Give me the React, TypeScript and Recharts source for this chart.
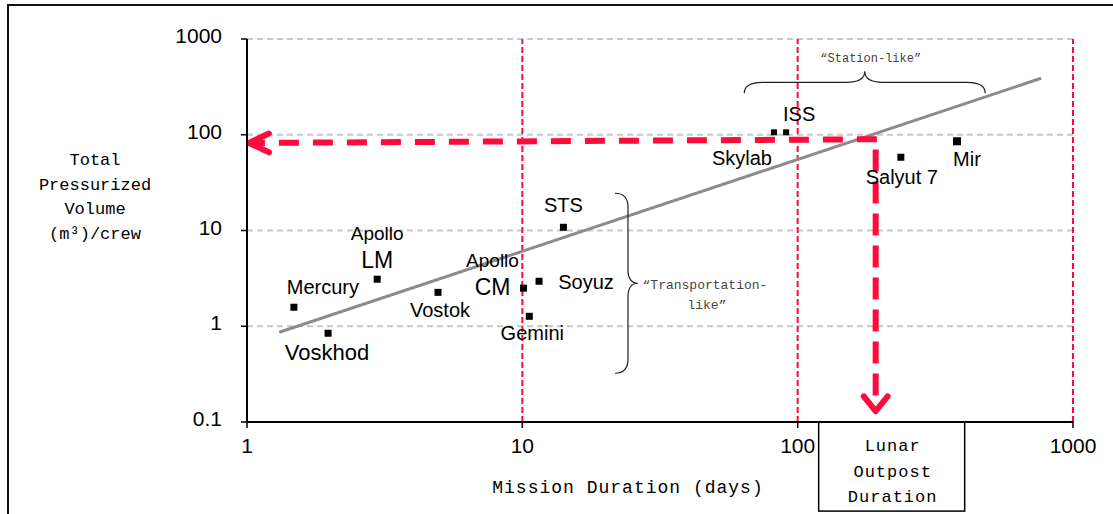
import React from 'react';
import { ScatterChart, Scatter, XAxis, YAxis, CartesianGrid, ReferenceLine } from 'recharts';

// mission data (days vs m3 per crew)
const missions = ['Mercury', 'Voskhod', 'Apollo LM', 'Vostok', 'Apollo CM', 'Gemini', 'Soyuz', 'STS', 'Skylab', 'ISS', 'Salyut 7', 'Mir'];
const durationDays = [1.48, 1.97, 2.97, 4.94, 10.1, 10.6, 11.5, 14.1, 82, 90.8, 237, 379];
const volumePerCrew = [1.58, 0.845, 3.1, 2.26, 2.5, 1.27, 2.95, 10.8, 106, 106, 58.2, 85.5];

const xTicks = [1, 10, 100, 1000];
const yTicks = [0.1, 1, 10, 100, 1000];
const decadeLines = [10, 100, 1000];

// fitted trend
const trendDays = [1.31, 766];
const trendVolume = [0.865, 389];

// lunar outpost read-off arrows
const outpostDays = 192;
const horizArrowDays = [194, 1.017];
const horizArrowVolume = [89.8, 82];
const vertArrowVolume = [70, 0.13];

// brace annotations
const stationBraceDays = [64, 480];
const stationBraceVolume = 271;
const transportBraceDays = 21.7;
const transportBraceVolume = [24.5, 0.323];

const yTitleLines = ['Total', 'Pressurized', 'Volume', '(m³)/crew'];
const outpostLines = ['Lunar', 'Outpost', 'Duration'];

const RED = '#ff0a3c';
const SANS = '"Liberation Sans", Arial, sans-serif';
const MONO = '"Liberation Mono", "Courier New", monospace';

const pointData = missions.map((name, i) => ({ name, x: durationDays[i], y: volumePerCrew[i] }));

type Row = { dx: number; dy: number; size: number };
const labelLayout: Record<string, { rows: Row[]; marker: number }> = {
  Mercury: { rows: [{ dx: 29, dy: -20, size: 20 }], marker: 7 },
  Voskhod: { rows: [{ dx: -1, dy: 19, size: 22 }], marker: 7 },
  'Apollo LM': { rows: [{ dx: 0, dy: -46, size: 19 }, { dx: 0, dy: -19, size: 23 }], marker: 7 },
  Vostok: { rows: [{ dx: 2, dy: 18, size: 20 }], marker: 7 },
  'Apollo CM': { rows: [{ dx: -31, dy: -28, size: 19 }, { dx: -31, dy: -1, size: 23 }], marker: 7 },
  Gemini: { rows: [{ dx: 3, dy: 17, size: 20 }], marker: 7 },
  Soyuz: { rows: [{ dx: 47, dy: 1, size: 20 }], marker: 7 },
  STS: { rows: [{ dx: 0, dy: -22, size: 20 }], marker: 7 },
  Skylab: { rows: [{ dx: -32, dy: 26, size: 20 }], marker: 6 },
  ISS: { rows: [{ dx: 13, dy: -18, size: 20 }], marker: 6 },
  'Salyut 7': { rows: [{ dx: 1, dy: 20, size: 20 }], marker: 7 },
  Mir: { rows: [{ dx: 10, dy: 18, size: 20 }], marker: 8 },
};

const MissionMarker = (props: any) => {
  const { cx, cy, payload } = props;
  const layout = labelLayout[payload.name];
  const texts = layout.rows.length > 1 ? payload.name.split(' ') : [payload.name];
  const s = layout.marker;
  return (
    <g>
      <rect x={cx - s / 2} y={cy - s / 2} width={s} height={s} fill="#000" />
      {layout.rows.map((r, i) => (
        <text key={i} x={cx + r.dx} y={cy + r.dy} dy="0.35em" textAnchor="middle"
          fontFamily={SANS} fontSize={r.size} fill="#000">
          {texts[i]}
        </text>
      ))}
    </g>
  );
};

const RedArrow = ({ x1, y1, x2, y2, arm, spread, dash }: any) => {
  const ang = Math.atan2(y2 - y1, x2 - x1);
  const p1 = [x2 - arm * Math.cos(ang - spread), y2 - arm * Math.sin(ang - spread)];
  const p2 = [x2 - arm * Math.cos(ang + spread), y2 - arm * Math.sin(ang + spread)];
  return (
    <g>
      <line x1={x1} y1={y1} x2={x2 - 6 * Math.cos(ang)} y2={y2 - 6 * Math.sin(ang)}
        stroke={RED} strokeWidth={6} strokeDasharray={dash} />
      <polyline points={`${p1[0]},${p1[1]} ${x2},${y2} ${p2[0]},${p2[1]}`}
        fill="none" stroke={RED} strokeWidth={6} strokeLinecap="round" strokeLinejoin="round" />
    </g>
  );
};

const OutpostArrow = (props: any) => {
  const { x2, y2 } = props;
  return (
    <g>
      <RedArrow {...props} arm={19} spread={0.68} dash="22 10" />
      <rect x={x2 - 57} y={y2 + 11} width={146} height={89} fill="#fff" stroke="#000" strokeWidth={1.5} />
      {outpostLines.map((t, i) => (
        <text key={t} x={x2 + 17} y={y2 + 40 + i * 25.5} textAnchor="middle"
          fontFamily={MONO} fontSize={17} letterSpacing={1} fill="#000">
          {t}
        </text>
      ))}
    </g>
  );
};

const StationBrace = ({ x1, y1, x2 }: any) => {
  const mid = (x1 + x2) / 2;
  const h = 11;
  const r = 18;
  const d = `M${x1},${y1} Q${x1},${y1 - h} ${x1 + r},${y1 - h} L${mid - r},${y1 - h} Q${mid},${y1 - h} ${mid},${y1 - 2 * h} `
    + `Q${mid},${y1 - h} ${mid + r},${y1 - h} L${x2 - r},${y1 - h} Q${x2},${y1 - h} ${x2},${y1}`;
  return (
    <g>
      <path d={d} fill="none" stroke="#222" strokeWidth={1.2} />
      <text x={mid + 6} y={y1 - 31} textAnchor="middle" fontFamily={MONO} fontSize={12} fill="#444">
        “Station-like”
      </text>
    </g>
  );
};

const TransportBrace = ({ x1, y1, y2 }: any) => {
  const mid = (y1 + y2) / 2;
  const w = 13;
  const r = 14;
  const d = `M${x1},${y1} Q${x1 + w},${y1} ${x1 + w},${y1 + r} L${x1 + w},${mid - r} Q${x1 + w},${mid} ${x1 + w + 10},${mid} `
    + `Q${x1 + w},${mid} ${x1 + w},${mid + r} L${x1 + w},${y2 - r} Q${x1 + w},${y2} ${x1},${y2}`;
  return (
    <g>
      <path d={d} fill="none" stroke="#222" strokeWidth={1.2} />
      <text x={x1 + 90} y={mid + 6} textAnchor="middle" fontFamily={MONO} fontSize={13} fill="#444">
        “Transportation-
      </text>
      <text x={x1 + 92} y={mid + 26} textAnchor="middle" fontFamily={MONO} fontSize={13} fill="#444">
        like”
      </text>
    </g>
  );
};

const YTick = ({ x, y, payload }: any) => (
  <text x={x} y={y} dy={4} textAnchor="end" fontFamily={SANS} fontSize={21} fill="#000">
    {String(payload.value)}
  </text>
);

const XTick = ({ x, y, payload }: any) => (
  <text x={x} y={y} dy={19} textAnchor="middle" fontFamily={SANS} fontSize={21} fill="#000">
    {String(payload.value)}
  </text>
);

const YTitle = ({ viewBox }: any) => (
  <text fontFamily={MONO} fontSize={17} fill="#000" textAnchor="middle">
    {yTitleLines.map((t, i) => (
      <tspan key={t} x={viewBox.x + 95} y={viewBox.y + 126 + i * 24.7}>{t}</tspan>
    ))}
  </text>
);

const XTitle = ({ viewBox }: any) => (
  <text x={viewBox.x + 381} y={viewBox.y + 71} textAnchor="middle" fontFamily={MONO}
    fontSize={18} letterSpacing={1} fill="#000">
    Mission Duration (days)
  </text>
);

export default function App() {
  return (
    <div style={{ position: 'absolute', left: 0, top: 0, width: 1113, height: 514, overflow: 'hidden', background: '#fff' }}>
      <div style={{ position: 'absolute', left: 7, top: 4, width: 1200, height: 600, borderTop: '2px solid #111', borderLeft: '2px solid #111' }} />
      <div style={{ position: 'absolute', left: 0, top: 0 }}>
        <ScatterChart width={1113} height={514} margin={{ top: 39, right: 40, bottom: 0, left: 0 }}>
          <CartesianGrid vertical={false} stroke="#c8c8c8" strokeDasharray="6 4" strokeWidth={2} />
          <XAxis type="number" dataKey="x" scale="log" domain={[1, 1000]} ticks={xTicks} allowDataOverflow
            height={92} tickSize={6} tickMargin={6} tick={XTick}
            axisLine={{ stroke: '#000', strokeWidth: 2 }} tickLine={{ stroke: '#000', strokeWidth: 1.5 }}
            label={{ content: XTitle }} />
          <YAxis type="number" dataKey="y" scale="log" domain={[0.1, 1000]} ticks={yTicks} allowDataOverflow
            width={247} tickSize={6} tickMargin={19} tick={YTick}
            axisLine={{ stroke: '#000', strokeWidth: 2 }} tickLine={{ stroke: '#000', strokeWidth: 1.5 }}
            label={{ content: YTitle }} />
          {decadeLines.map((v) => (
            <ReferenceLine key={v} x={v} stroke={RED} strokeWidth={2} strokeDasharray="6 3" ifOverflow="visible" />
          ))}
          <ReferenceLine
            segment={[{ x: trendDays[0], y: trendVolume[0] }, { x: trendDays[1], y: trendVolume[1] }]}
            stroke="#8c8c8c" strokeWidth={3} ifOverflow="visible" />
          <ReferenceLine
            segment={[{ x: stationBraceDays[0], y: stationBraceVolume }, { x: stationBraceDays[1], y: stationBraceVolume }]}
            ifOverflow="visible" shape={StationBrace} />
          <ReferenceLine
            segment={[{ x: transportBraceDays, y: transportBraceVolume[0] }, { x: transportBraceDays, y: transportBraceVolume[1] }]}
            ifOverflow="visible" shape={TransportBrace} />
          <Scatter data={pointData} shape={MissionMarker} isAnimationActive={false} />
          <ReferenceLine
            segment={[{ x: horizArrowDays[0], y: horizArrowVolume[0] }, { x: horizArrowDays[1], y: horizArrowVolume[1] }]}
            ifOverflow="visible" shape={(p: any) => <RedArrow {...p} arm={22} spread={0.44} dash="20 14" />} />
          <ReferenceLine
            segment={[{ x: outpostDays, y: vertArrowVolume[0] }, { x: outpostDays, y: vertArrowVolume[1] }]}
            ifOverflow="visible" shape={OutpostArrow} />
        </ScatterChart>
      </div>
    </div>
  );
}
